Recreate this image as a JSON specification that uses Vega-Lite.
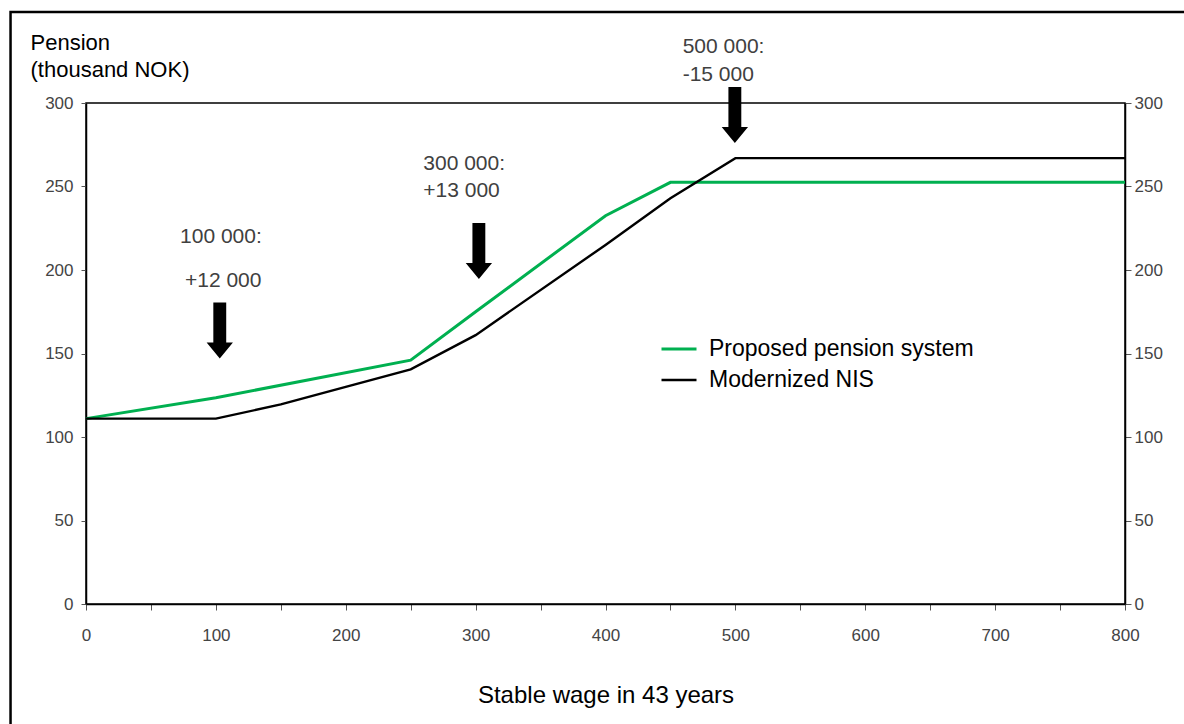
{
  "$schema": "https://vega.github.io/schema/vega-lite/v6.json",
  "width": 1039,
  "height": 501,
  "autosize": "none",
  "padding": {"left": 86, "top": 103, "right": 59, "bottom": 120},
  "background": "white",
  "config": {
    "font": "Liberation Sans",
    "view": {"stroke": "black", "strokeWidth": 1.5}
  },
  "datasets": {
    "series": [
      {"wage": 0, "pension": 111, "system": "Proposed pension system"},
      {"wage": 100, "pension": 123.5, "system": "Proposed pension system"},
      {"wage": 250, "pension": 146, "system": "Proposed pension system"},
      {"wage": 300, "pension": 175, "system": "Proposed pension system"},
      {"wage": 400, "pension": 232.5, "system": "Proposed pension system"},
      {"wage": 450, "pension": 252.5, "system": "Proposed pension system"},
      {"wage": 800, "pension": 252.5, "system": "Proposed pension system"},
      {"wage": 0, "pension": 111, "system": "Modernized NIS"},
      {"wage": 100, "pension": 111, "system": "Modernized NIS"},
      {"wage": 150, "pension": 119.5, "system": "Modernized NIS"},
      {"wage": 200, "pension": 130, "system": "Modernized NIS"},
      {"wage": 250, "pension": 140.5, "system": "Modernized NIS"},
      {"wage": 300, "pension": 161, "system": "Modernized NIS"},
      {"wage": 400, "pension": 215, "system": "Modernized NIS"},
      {"wage": 450, "pension": 243, "system": "Modernized NIS"},
      {"wage": 500, "pension": 267, "system": "Modernized NIS"},
      {"wage": 800, "pension": 267, "system": "Modernized NIS"}
    ],
    "arrows": [
      {"wage": 103, "pension": 163.8},
      {"wage": 302.5, "pension": 211.4},
      {"wage": 499.6, "pension": 292.8}
    ],
    "notes": [
      {"wage": 72.4, "pension": 216.2, "label": "100 000:"},
      {"wage": 76.2, "pension": 189.8, "label": "+12 000"},
      {"wage": 259.7, "pension": 259.9, "label": "300 000:"},
      {"wage": 259.7, "pension": 243.9, "label": "+13 000"},
      {"wage": 459.4, "pension": 330.1, "label": "500 000:"},
      {"wage": 459.4, "pension": 313.2, "label": "-15 000"}
    ]
  },
  "layer": [
    {
      "data": {"values": [{}]},
      "mark": {"type": "rect", "fillOpacity": 0, "stroke": "black", "strokeWidth": 2.5, "clip": false},
      "encoding": {
        "x": {"datum": -58.1, "type": "quantitative", "scale": {"domain": [0, 800]}, "axis": null},
        "x2": {"datum": 900},
        "y": {"datum": 354.5, "type": "quantitative", "scale": {"domain": [0, 300]}, "axis": null},
        "y2": {"datum": -100}
      }
    },
    {
      "data": {"name": "series"},
      "mark": {"type": "line", "clip": false},
      "encoding": {
        "x": {
          "field": "wage", "type": "quantitative",
          "scale": {"domain": [0, 800], "nice": false},
          "axis": {
            "values": [0, 50, 100, 150, 200, 250, 300, 350, 400, 450, 500, 550, 600, 650, 700, 750, 800],
            "labelExpr": "datum.value % 100 == 0 ? datum.label : ''",
            "grid": false,
            "domainColor": "black", "domainWidth": 1.5,
            "tickColor": "#555", "tickSize": 6, "tickWidth": 1,
            "labelFontSize": 17, "labelColor": "#444", "labelPadding": 17,
            "labelFlush": false,
            "title": "Stable wage in 43 years",
            "titleFontSize": 24, "titleFontWeight": "normal", "titleColor": "black",
            "titleBaseline": "alphabetic", "titleY": 98
          }
        },
        "y": {
          "field": "pension", "type": "quantitative",
          "scale": {"domain": [0, 300], "nice": false},
          "axis": {
            "values": [0, 50, 100, 150, 200, 250, 300],
            "grid": false,
            "orient": "left",
            "domainColor": "black", "domainWidth": 1.5,
            "tickColor": "#555", "tickSize": 5, "tickWidth": 1,
            "labelFontSize": 17, "labelColor": "#444", "labelPadding": 8,
            "title": ["Pension", "(thousand NOK)"],
            "titleAngle": 0, "titleAlign": "left", "titleBaseline": "alphabetic",
            "titleX": -56, "titleY": -54, "titleFontSize": 22, "titleFontWeight": "normal",
            "titleColor": "black", "titleLineHeight": 27
          }
        },
        "color": {
          "field": "system", "type": "nominal",
          "scale": {"domain": ["Proposed pension system", "Modernized NIS"], "range": ["#00b050", "#000000"]},
          "legend": {
            "orient": "none", "legendX": 574, "legendY": 227,
            "title": null,
            "symbolType": "stroke", "symbolSize": 1225, "symbolStrokeWidth": 3,
            "labelFontSize": 23, "labelColor": "black", "labelOffset": 11, "labelLimit": 0,
            "rowPadding": -11, "padding": 0
          }
        },
        "strokeWidth": {
          "field": "system", "type": "nominal",
          "scale": {"domain": ["Proposed pension system", "Modernized NIS"], "range": [3, 2.4]},
          "legend": null
        }
      }
    },
    {
      "data": {"name": "arrows"},
      "mark": {
        "type": "point", "filled": true, "color": "black", "opacity": 1, "clip": false,
        "shape": "M -0.23 -1 L 0.23 -1 L 0.23 0.43 L 0.47 0.43 L 0 1 L -0.47 0.43 L -0.23 0.43 Z",
        "size": 3136
      },
      "encoding": {
        "x": {"field": "wage", "type": "quantitative", "scale": {"domain": [0, 800]}, "axis": null},
        "y": {
          "field": "pension", "type": "quantitative", "scale": {"domain": [0, 300]},
          "axis": {
            "orient": "right",
            "values": [0, 50, 100, 150, 200, 250, 300],
            "grid": false,
            "domainColor": "black", "domainWidth": 1.5,
            "tickColor": "#555", "tickSize": 6, "tickWidth": 1,
            "labelFontSize": 17, "labelColor": "#444", "labelPadding": 3,
            "title": null
          }
        }
      }
    },
    {
      "data": {"name": "notes"},
      "mark": {
        "type": "text", "align": "left", "baseline": "alphabetic",
        "font": "Liberation Sans", "fontSize": 21, "color": "#404040", "clip": false
      },
      "encoding": {
        "x": {"field": "wage", "type": "quantitative", "scale": {"domain": [0, 800]}, "axis": null},
        "y": {"field": "pension", "type": "quantitative", "scale": {"domain": [0, 300]}, "axis": null},
        "text": {"field": "label"}
      }
    }
  ],
  "resolve": {"axis": {"x": "independent", "y": "independent"}}
}
